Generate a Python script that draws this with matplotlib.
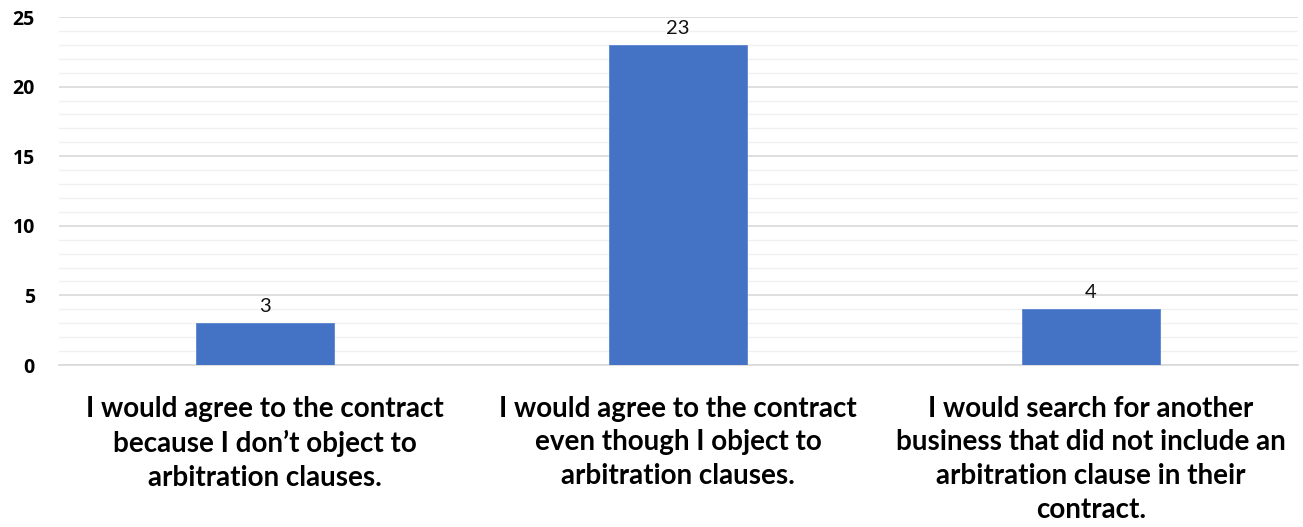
import matplotlib
matplotlib.use("Agg")
import matplotlib.pyplot as plt
from matplotlib.ticker import MultipleLocator

categories = [
    "I would agree to the contract\nbecause I don\u2019t object to\narbitration clauses.",
    "I would agree to the contract\neven though I object to\narbitration clauses.",
    "I would search for another\nbusiness that did not include an\narbitration clause in their\ncontract.",
]
counts = [3, 23, 4]
y_ticks = [0, 5, 10, 15, 20, 25]

plt.rcParams["font.family"] = ["Lato", "DejaVu Sans"]

fig = plt.figure(figsize=(13.03, 5.27), dpi=100)
ax = fig.add_axes([0.0449, 0.3074, 0.9509, 0.6603])

x = range(len(categories))
ax.bar(x, counts, width=0.334, color="#4472C4", edgecolor="#5b85d0",
       linewidth=0.6, zorder=3)

for xi, v in zip(x, counts):
    ax.annotate(str(v), (xi, v), xytext=(0, 6), textcoords="offset points",
                ha="center", va="bottom", fontsize=14.5, color="#111111")

ax.set_xlim(-0.5, len(categories) - 0.5)
ax.set_ylim(0, 25)
ax.set_yticks(y_ticks)
ax.yaxis.set_minor_locator(MultipleLocator(1))
ax.grid(axis="y", which="major", color="#d9d9d9", linewidth=1.2, zorder=0)
ax.grid(axis="y", which="minor", color="#f0f0f0", linewidth=1.0, zorder=0)
ax.tick_params(axis="y", which="both", length=0, pad=17)
ax.set_yticklabels([str(t) for t in y_ticks], fontsize=14, fontweight="bold",
                   family=["Open Sans", "DejaVu Sans"])

ax.set_xticks(list(x))
ax.set_xticklabels(categories, fontsize=20, fontweight="bold", linespacing=1.37)
ax.tick_params(axis="x", length=0, pad=22)

for side in ["top", "right", "left"]:
    ax.spines[side].set_visible(False)
ax.spines["bottom"].set_color("#d9d9d9")
ax.spines["bottom"].set_linewidth(1.2)

fig.savefig("out.png", dpi=100)
